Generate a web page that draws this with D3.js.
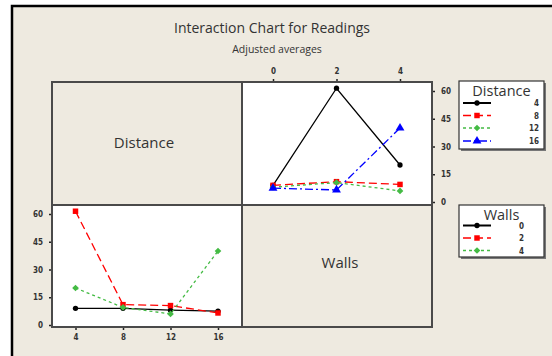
<!DOCTYPE html>
<html>
<head>
<meta charset="utf-8">
<script src="https://cdn.jsdelivr.net/npm/d3@7"></script>
<style>
  body { margin: 0; background: #fff; }
  svg text { font-family: "Open Sans", "Noto Sans", sans-serif; fill: #333; }
</style>
</head>
<body>
<div id="chart"></div>
<script>
(function () {
// factor levels
const distances = [4, 8, 12, 16];
const walls = [0, 2, 4];

// adjusted averages, one array per distance, values by walls 0, 2, 4
const distance4 = [9, 61.5, 20];
const distance8 = [9, 11, 9.5];
const distance12 = [8, 10.5, 6];
const distance16 = [7.5, 6.5, 40];

const yTicks = [0, 15, 30, 45, 60];

const byDistance = [distance4, distance8, distance12, distance16];

const W = 552, H = 356;

const svg = d3.select("#chart")
  .append("svg")
  .attr("width", W)
  .attr("height", H);

// background + frame
svg.append("rect")
  .attr("x", 12).attr("y", 6)
  .attr("width", W).attr("height", H)
  .attr("fill", "#eeeae0");
svg.append("path")
  .attr("d", `M12,${H} L12,6 L${W},6`)
  .attr("fill", "none")
  .attr("stroke", "#000")
  .attr("stroke-width", 2.5);

// titles
svg.append("text")
  .attr("x", 272).attr("y", 33)
  .attr("text-anchor", "middle")
  .style("font-size", "14px")
  .text("Interaction Chart for Readings");
svg.append("text")
  .attr("x", 277).attr("y", 53)
  .attr("text-anchor", "middle")
  .style("font-size", "10.5px")
  .text("Adjusted averages");

// panel geometry
const left = 52, mid = 242, right = 432;
const top = 82, midY = 205, bottom = 327;

// white plot panels
svg.append("rect")
  .attr("x", mid).attr("y", top)
  .attr("width", right - mid).attr("height", midY - top)
  .attr("fill", "#fff");
svg.append("rect")
  .attr("x", left).attr("y", midY)
  .attr("width", mid - left).attr("height", bottom - midY)
  .attr("fill", "#fff");

// scales
const xW = d3.scaleLinear().domain([0, 4]).range([273, 400]);
const yTop = d3.scaleLinear().domain([0, 60]).range([202, 91]);
const xD = d3.scaleLinear().domain([4, 16]).range([75.5, 218]);
const yBot = d3.scaleLinear().domain([0, 60]).range([325, 214]);

const fmt = d3.format("d");

// axes
function styleAxis(g) {
  g.select(".domain").remove();
  g.selectAll(".tick line").attr("stroke", "#222").attr("stroke-width", 1.5);
  g.selectAll(".tick text")
    .style("font-family", "'DejaVu Sans Condensed', sans-serif")
    .style("font-size", "8px")
    .style("font-weight", "bold")
    .attr("fill", "#444");
}

svg.append("g")
  .attr("transform", `translate(0, ${top})`)
  .call(d3.axisTop(xW).tickValues(walls).tickFormat(fmt).tickSize(3).tickPadding(5))
  .call(styleAxis);

svg.append("g")
  .attr("transform", `translate(${right}, 0)`)
  .call(d3.axisRight(yTop).tickValues(yTicks).tickFormat(fmt).tickSize(3).tickPadding(6))
  .call(styleAxis);

svg.append("g")
  .attr("transform", `translate(${left}, 0)`)
  .call(d3.axisLeft(yBot).tickValues(yTicks).tickFormat(fmt).tickSize(3).tickPadding(6))
  .call(styleAxis);

svg.append("g")
  .attr("transform", `translate(0, ${bottom})`)
  .call(d3.axisBottom(xD).tickValues(distances).tickFormat(fmt).tickSize(3).tickPadding(4))
  .call(styleAxis);

// panel borders
svg.append("rect")
  .attr("x", left).attr("y", top)
  .attr("width", right - left).attr("height", bottom - top)
  .attr("fill", "none")
  .attr("stroke", "#4a4a4a")
  .attr("stroke-width", 2);
svg.append("line")
  .attr("x1", mid).attr("x2", mid)
  .attr("y1", top).attr("y2", bottom)
  .attr("stroke", "#4a4a4a").attr("stroke-width", 2);
svg.append("line")
  .attr("x1", left).attr("x2", right)
  .attr("y1", midY).attr("y2", midY)
  .attr("stroke", "#4a4a4a").attr("stroke-width", 2);

// factor names in diagonal panels
svg.append("text")
  .attr("x", 144).attr("y", 148)
  .attr("text-anchor", "middle")
  .style("font-size", "15px")
  .text("Distance");
svg.append("text")
  .attr("x", 340).attr("y", 268)
  .attr("text-anchor", "middle")
  .style("font-size", "15px")
  .text("Walls");

// series styles
const styles = [
  { color: "#000", dash: null, shape: d3.symbolCircle, size: 22 },
  { color: "#ff0000", dash: "8,4", shape: d3.symbolSquare, size: 30 },
  { color: "#44bb44", dash: "3,3", shape: d3.symbolDiamond2, size: 28 },
  { color: "#0000ff", dash: "8,3,2,3", shape: d3.symbolTriangle, size: 34 }
];

function drawSeries(g, pts, st) {
  g.append("path")
    .datum(pts)
    .attr("fill", "none")
    .attr("stroke", st.color)
    .attr("stroke-width", 1.3)
    .attr("stroke-dasharray", st.dash)
    .attr("d", d3.line().x(d => d[0]).y(d => d[1]));
  g.selectAll(null)
    .data(pts)
    .join("path")
    .attr("transform", d => `translate(${d[0]}, ${d[1]})`)
    .attr("d", d3.symbol().type(st.shape).size(st.size))
    .attr("fill", st.color);
}

// top-right: x = walls, one line per distance
const topG = svg.append("g");
byDistance.forEach((vals, i) => {
  const pts = walls.map((w, j) => [xW(w), yTop(vals[j])]);
  drawSeries(topG, pts, styles[i]);
});

// bottom-left: x = distance, one line per walls level
const botG = svg.append("g");
walls.forEach((w, j) => {
  const pts = distances.map((dist, i) => [xD(dist), yBot(byDistance[i][j])]);
  drawSeries(botG, pts, styles[j]);
});

// legends
function legend(x, y, w, h, title, labels, labelX, rowY) {
  const g = svg.append("g").attr("transform", `translate(${x}, ${y})`);
  g.append("rect")
    .attr("x", 2).attr("y", 2)
    .attr("width", w).attr("height", h)
    .attr("fill", "#777");
  g.append("rect")
    .attr("width", w).attr("height", h)
    .attr("fill", "#fff")
    .attr("stroke", "#333")
    .attr("stroke-width", 1.2);
  g.append("text")
    .attr("x", w / 2).attr("y", 15)
    .attr("text-anchor", "middle")
    .style("font-size", "14.5px")
    .text(title);
  labels.forEach((lab, i) => {
    const st = styles[i];
    const yy = rowY[i];
    g.append("line")
      .attr("x1", 4).attr("x2", 32)
      .attr("y1", yy).attr("y2", yy)
      .attr("stroke", st.color)
      .attr("stroke-width", i === 0 ? 2 : 1.3)
      .attr("stroke-dasharray", st.dash);
    g.append("path")
      .attr("transform", `translate(18, ${yy})`)
      .attr("d", d3.symbol().type(st.shape).size(st.size))
      .attr("fill", st.color);
    g.append("text")
      .attr("x", labelX).attr("y", yy + 3)
      .attr("text-anchor", "end")
      .style("font-family", "'DejaVu Sans Condensed', sans-serif")
      .style("font-size", "8px")
      .style("font-weight", "bold")
      .text(lab);
  });
}

legend(459, 81, 85, 68, "Distance", distances, 80, [22, 34.5, 47, 60]);
legend(459, 205, 85, 52, "Walls", walls, 65, [20.5, 33, 45.5]);
})();
</script>
</body>
</html>
